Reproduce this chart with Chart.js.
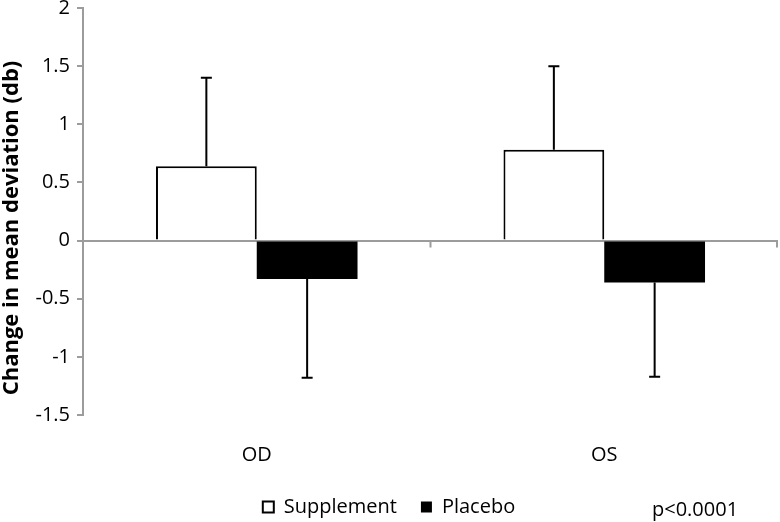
<!DOCTYPE html>
<html>
<head>
<meta charset="utf-8">
<script src="https://cdn.jsdelivr.net/npm/chart.js@4/dist/chart.umd.min.js"></script>
<style>
  html, body { margin: 0; padding: 0; background: #fff; }
  canvas { display: block; }
</style>
</head>
<body>
<canvas id="chart" width="780" height="522"></canvas>
<script>
// chart data
const categories = ['OD', 'OS'];
const supplementMeans = [0.64, 0.78];
const supplementErrors = [0.76, 0.72];
const placeboMeans = [-0.33, -0.36];
const placeboErrors = [0.85, 0.81];
const yTicks = [-1.5, -1, -0.5, 0, 0.5, 1, 1.5, 2];
const yTitle = 'Change in mean deviation (db)';
const pValueText = 'p<0.0001';

const axisGray = '#9c9c9c';
const fontFamily = '"Open Sans", sans-serif';

// one-sided error bars, pointing away from zero
const errorBars = {
    id: 'errorBars',
    afterDatasetsDraw(chart) {
        const ctx = chart.ctx;
        const yScale = chart.scales.y;
        chart.data.datasets.forEach((ds, i) => {
            const meta = chart.getDatasetMeta(i);
            meta.data.forEach((bar, j) => {
                const v = ds.data[j];
                const e = ds.errors[j];
                const end = v >= 0 ? v + e : v - e;
                const yEnd = yScale.getPixelForValue(end);
                ctx.save();
                ctx.strokeStyle = '#000';
                ctx.lineWidth = 2;
                ctx.beginPath();
                ctx.moveTo(bar.x, bar.y);
                ctx.lineTo(bar.x, yEnd);
                ctx.moveTo(bar.x - 5.5, yEnd);
                ctx.lineTo(bar.x + 5.5, yEnd);
                ctx.stroke();
                ctx.restore();
            });
        });
    }
};

// category ticks under the zero line, axis title and the p value note
const extras = {
    id: 'extras',
    afterDraw(chart) {
        const ctx = chart.ctx;
        const x = chart.scales.x;
        const y0 = chart.scales.y.getPixelForValue(0);
        const mid = (x.getPixelForValue(0) + x.getPixelForValue(1)) / 2;
        ctx.save();
        ctx.strokeStyle = axisGray;
        ctx.lineWidth = 2;
        ctx.beginPath();
        [mid, x.right - 1].forEach(px => {
            ctx.moveTo(px, y0);
            ctx.lineTo(px, y0 + 7);
        });
        ctx.stroke();

        ctx.fillStyle = '#000';
        ctx.font = '20px ' + fontFamily;
        ctx.textBaseline = 'middle';
        ctx.fillText(pValueText, 652, 510);

        ctx.translate(12, 228);
        ctx.rotate(-Math.PI / 2);
        ctx.font = 'bold 22px ' + fontFamily;
        ctx.textAlign = 'center';
        ctx.fillText(yTitle, 0, 0);
        ctx.restore();
    }
};

const ctx = document.getElementById('chart').getContext('2d');
new Chart(ctx, {
    type: 'bar',
    data: {
        labels: categories,
        datasets: [{
            label: 'Supplement',
            data: supplementMeans,
            errors: supplementErrors,
            backgroundColor: '#fff',
            borderColor: '#000',
            borderWidth: 2
        }, {
            label: 'Placebo',
            data: placeboMeans,
            errors: placeboErrors,
            backgroundColor: '#000',
            borderColor: '#000',
            borderWidth: 0
        }]
    },
    options: {
        responsive: false,
        devicePixelRatio: 1,
        animation: false,
        categoryPercentage: 0.58,
        barPercentage: 1,
        layout: {
            padding: { top: 8, right: 2, left: 0, bottom: -5 }
        },
        plugins: {
            legend: {
                position: 'bottom',
                labels: {
                    boxWidth: 11,
                    boxHeight: 11,
                    padding: 24,
                    color: '#000',
                    font: { family: fontFamily, size: 20 }
                }
            },
            tooltip: { enabled: false }
        },
        scales: {
            x: {
                afterFit: s => { s.height = 58; },
                grid: { display: false, drawTicks: false },
                border: { display: false },
                ticks: {
                    color: '#000',
                    padding: 28,
                    font: { family: fontFamily, size: 20 }
                }
            },
            y: {
                min: -1.5,
                max: 2,
                afterBuildTicks: scale => {
                    scale.ticks = yTicks.map(v => ({ value: v }));
                },
                afterFit: s => {
                    s.width = 83;
                    s.paddingTop = 0;
                    s.paddingBottom = 0;
                },
                ticks: {
                    color: '#000',
                    padding: 7,
                    font: { family: fontFamily, size: 20 },
                    callback: v => String(v)
                },
                grid: {
                    color: c => (c.tick && c.tick.value === 0) ? axisGray : 'rgba(0,0,0,0)',
                    tickColor: axisGray,
                    tickLength: 6,
                    lineWidth: 2
                },
                border: { color: axisGray, width: 2 }
            }
        }
    },
    plugins: [errorBars, extras]
});
</script>
</body>
</html>
